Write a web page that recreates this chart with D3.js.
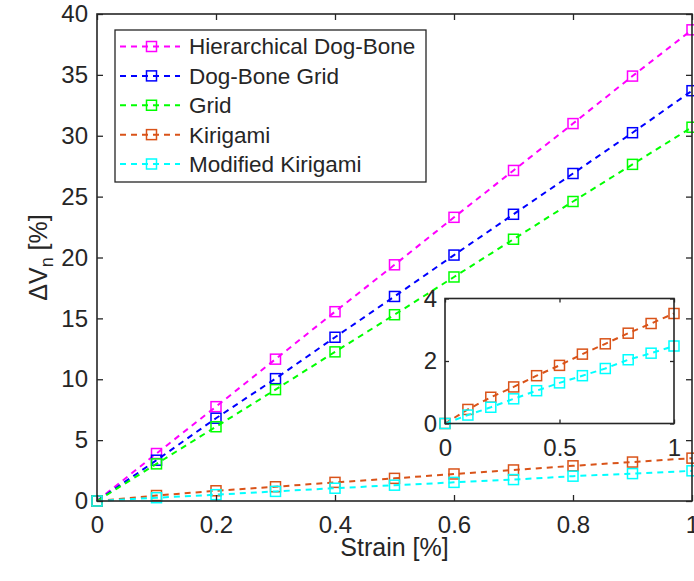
<!DOCTYPE html>
<html>
<head>
<meta charset="utf-8">
<script src="https://cdn.jsdelivr.net/npm/d3@7/dist/d3.min.js"></script>
<style>
  html, body { margin: 0; padding: 0; background: #fff; }
  svg { display: block; font-family: "Liberation Sans", Arial, Helvetica, sans-serif; }
</style>
</head>
<body>
<svg id="chart" width="694" height="581"></svg>
<script>
// Strain steps (%)
const strain = [0, 0.1, 0.2, 0.3, 0.4, 0.5, 0.6, 0.7, 0.8, 0.9, 1.0];

// Normalised volume change ΔVn (%) for each structure
const hierarchicalDogBone = [0, 3.9, 7.75, 11.65, 15.55, 19.4, 23.3, 27.15, 31.0, 34.9, 38.7];
const dogBoneGrid        = [0, 3.35, 6.8, 10.05, 13.45, 16.8, 20.2, 23.55, 26.9, 30.25, 33.7];
const grid               = [0, 3.05, 6.1, 9.15, 12.25, 15.3, 18.4, 21.5, 24.6, 27.65, 30.7];
const kirigami           = [0, 0.45, 0.84, 1.17, 1.53, 1.86, 2.22, 2.55, 2.89, 3.2, 3.52];
const modifiedKirigami   = [0, 0.27, 0.52, 0.79, 1.05, 1.3, 1.53, 1.76, 2.04, 2.25, 2.48];

const seriesNames  = ["Hierarchical Dog-Bone", "Dog-Bone Grid", "Grid", "Kirigami", "Modified Kirigami"];
const seriesValues = [hierarchicalDogBone, dogBoneGrid, grid, kirigami, modifiedKirigami];
const seriesColors = ["#ff00ff", "#0000ff", "#00ff00", "#d95319", "#00ffff"];

// Tick values
const mainXTicks = [0, 0.2, 0.4, 0.6, 0.8, 1];
const mainYTicks = [0, 5, 10, 15, 20, 25, 30, 35, 40];
const insetXTicks = [0, 0.5, 1];
const insetYTicks = [0, 2, 4];

const svg = d3.select("#chart");
const axisColor = "#262626";
const tickFont = 24;

const series = seriesNames.map((name, i) => ({
  name, color: seriesColors[i],
  points: strain.map((s, j) => ({ x: s, y: seriesValues[i][j] }))
}));

// Draws a boxed axes with inward ticks on all four sides
function drawAxes(g, x, y, xTicks, yTicks, xFmt, yFmt, tickLen, yPad, xPad) {
  const [x0, x1] = x.range();
  const [y0, y1] = y.range();
  const style = sel => {
    sel.select(".domain").remove();
    sel.selectAll("line").attr("stroke", axisColor).attr("stroke-width", 1.3);
    sel.selectAll("text").attr("fill", axisColor).style("font-size", tickFont + "px");
  };
  g.append("g").attr("transform", `translate(0,${y0})`)
    .call(d3.axisBottom(x).tickValues(xTicks).tickFormat(xFmt).tickSize(-tickLen).tickPadding(xPad)).call(style);
  g.append("g").attr("transform", `translate(0,${y1})`)
    .call(d3.axisTop(x).tickValues(xTicks).tickFormat("").tickSize(-tickLen)).call(style);
  g.append("g").attr("transform", `translate(${x0},0)`)
    .call(d3.axisLeft(y).tickValues(yTicks).tickFormat(yFmt).tickSize(-tickLen).tickPadding(yPad)).call(style);
  g.append("g").attr("transform", `translate(${x1},0)`)
    .call(d3.axisRight(y).tickValues(yTicks).tickFormat("").tickSize(-tickLen)).call(style);
  g.append("rect")
    .attr("x", x0).attr("y", y1).attr("width", x1 - x0).attr("height", y0 - y1)
    .attr("fill", "none").attr("stroke", axisColor).attr("stroke-width", 1.6);
}

function drawSeries(g, x, y, list, markerSize) {
  const line = d3.line().x(d => x(d.x)).y(d => y(d.y));
  list.forEach(s => {
    const sg = g.append("g");
    sg.append("path").datum(s.points)
      .attr("d", line).attr("fill", "none")
      .attr("stroke", s.color).attr("stroke-width", 2)
      .attr("stroke-dasharray", "6,5");
    sg.selectAll("rect").data(s.points).join("rect")
      .attr("x", d => x(d.x) - markerSize / 2)
      .attr("y", d => y(d.y) - markerSize / 2)
      .attr("width", markerSize).attr("height", markerSize)
      .attr("fill", "none").attr("stroke", s.color).attr("stroke-width", 1.5);
  });
}

// Main axes
const x = d3.scaleLinear().domain([0, 1]).range([97, 692]);
const y = d3.scaleLinear().domain([0, 40]).range([501, 14]);

const main = svg.append("g");
drawSeries(main, x, y, series, 10);
drawAxes(main, x, y, mainXTicks, mainYTicks, d3.format("~g"), d3.format("~g"), 6, 9, 15);

// Axis titles
svg.append("text")
  .attr("x", (x.range()[0] + x.range()[1]) / 2).attr("y", 556)
  .attr("text-anchor", "middle").attr("fill", axisColor)
  .style("font-size", "25px").text("Strain [%]");

const yTitle = svg.append("text")
  .attr("transform", `translate(47,${(y.range()[0] + y.range()[1]) / 2}) rotate(-90)`)
  .attr("text-anchor", "middle").attr("fill", axisColor)
  .style("font-size", "25px");
yTitle.append("tspan").text("\u0394V");
yTitle.append("tspan").attr("dy", 6).style("font-size", "18px").text("n");
yTitle.append("tspan").attr("dy", -6).text(" [%]");

// Inset: close-up of the two kirigami structures
const xi = d3.scaleLinear().domain([0, 1]).range([445, 674]);
const yi = d3.scaleLinear().domain([0, 4]).range([423.5, 298.5]);
const inset = svg.append("g");
inset.append("rect")
  .attr("x", 445).attr("y", 298.5).attr("width", 229).attr("height", 125)
  .attr("fill", "#fff");
drawSeries(inset, xi, yi, series.slice(3), 10);
drawAxes(inset, xi, yi, insetXTicks, insetYTicks, d3.format("~g"), d3.format("~g"), 4, 8, 15);

// Legend
const legend = svg.append("g");
legend.append("rect")
  .attr("x", 115).attr("y", 30).attr("width", 311).attr("height", 152)
  .attr("fill", "#fff").attr("stroke", axisColor).attr("stroke-width", 1.3);
const rowY = d3.scalePoint().domain(seriesNames).range([46.5, 164]);
series.forEach(s => {
  const ry = rowY(s.name);
  legend.append("line")
    .attr("x1", 120).attr("x2", 180).attr("y1", ry).attr("y2", ry)
    .attr("stroke", s.color).attr("stroke-width", 2).attr("stroke-dasharray", "6,5");
  legend.append("rect")
    .attr("x", 151.5 - 5).attr("y", ry - 5).attr("width", 10).attr("height", 10)
    .attr("fill", "none").attr("stroke", s.color).attr("stroke-width", 1.5);
  legend.append("text")
    .attr("x", 189).attr("y", ry).attr("dy", "0.35em")
    .attr("fill", axisColor).style("font-size", "22.5px").text(s.name);
});
</script>
</body>
</html>
